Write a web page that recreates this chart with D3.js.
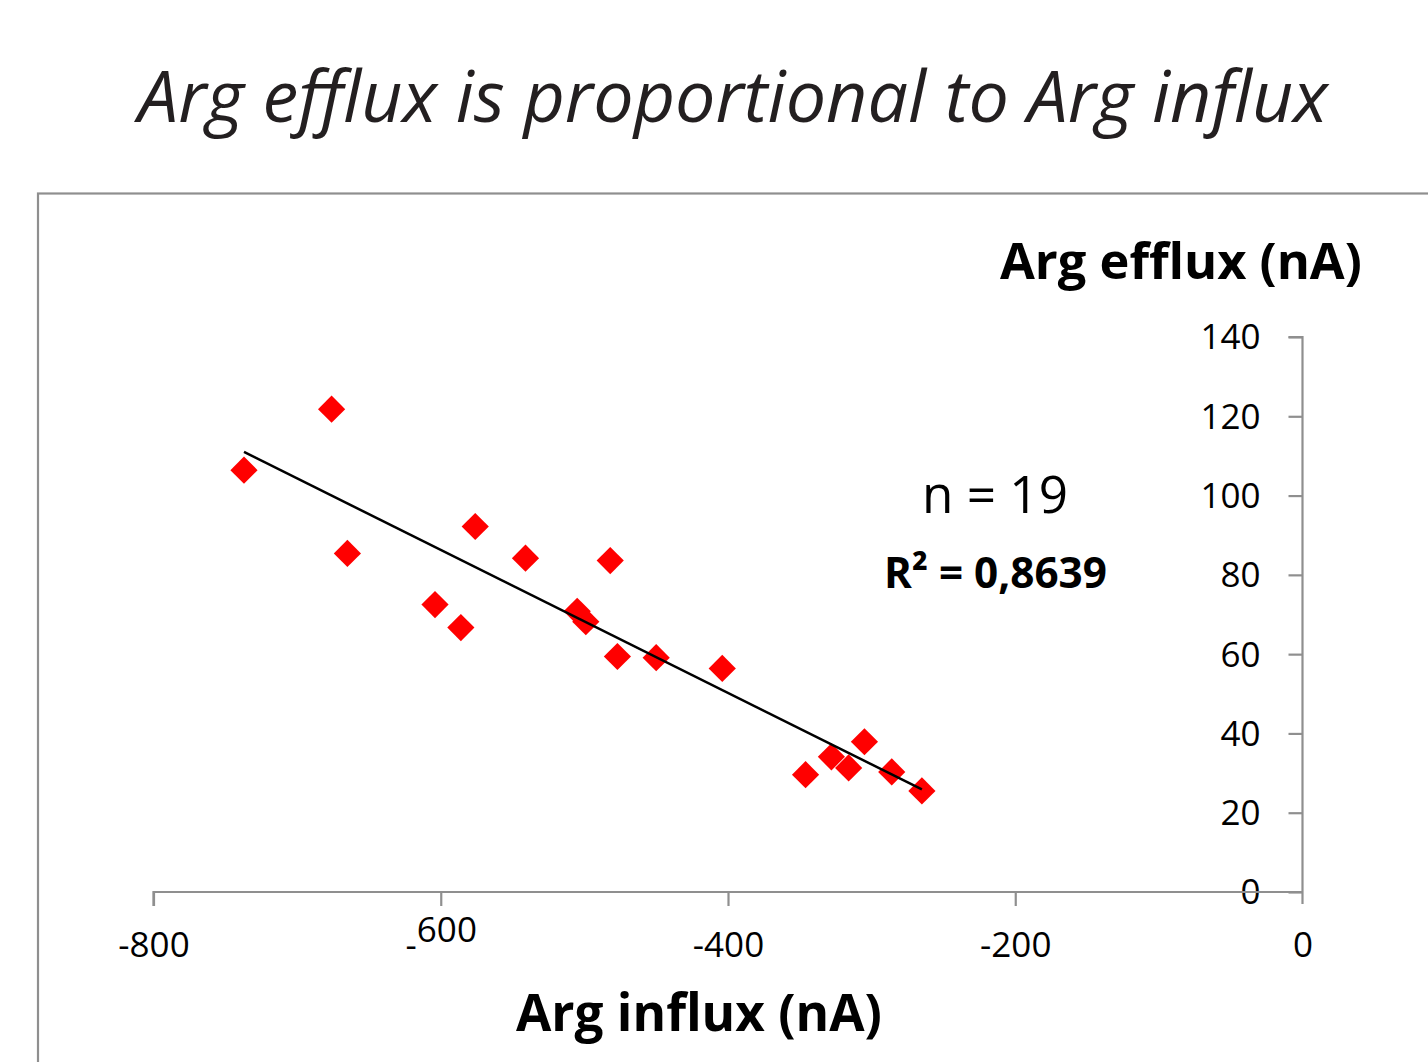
<!DOCTYPE html>
<html>
<head>
<meta charset="utf-8">
<script src="https://cdn.jsdelivr.net/npm/d3@7"></script>
<style>
  html, body { margin: 0; padding: 0; background: #fff; }
  svg { display: block; }
  text { font-family: "Open Sans", "Noto Sans", sans-serif; }
</style>
</head>
<body>
<svg id="chart" width="1428" height="1062"></svg>
<script>
// ---- data ----
const titleText = "Arg efflux is proportional to Arg influx";
const xLabel = "Arg influx (nA)";
const yLabel = "Arg efflux (nA)";
const nText = "n = 19";
const r2Text = "R² = 0,8639";

const influx = [-737, -676, -665, -604, -586, -576, -541, -505, -499, -482, -477, -450, -404, -346, -328, -316, -305, -286, -265];
const efflux = [106.4, 121.8, 85.4, 72.5, 66.7, 92.2, 84.2, 70.8, 68.2, 83.6, 59.4, 59.1, 56.4, 29.6, 34.1, 31.3, 37.9, 30.3, 25.5];

const xTicks = [-800, -600, -400, -200, 0];
const yTicks = [0, 20, 40, 60, 80, 100, 120, 140];

// ---- layout ----
const svg = d3.select("#chart");
const axisColor = "#8f8f8f";

const x = d3.scaleLinear().domain([-800, 0]).range([153.5, 1302.5]);
const y = d3.scaleLinear().domain([0, 140]).range([892, 337]);

// outer chart frame
svg.append("rect")
  .attr("x", 38).attr("y", 193.5)
  .attr("width", 1500).attr("height", 1000)
  .attr("fill", "none").attr("stroke", axisColor).attr("stroke-width", 2.2);

function fitText(sel, width) {
  const w = sel.node().getComputedTextLength();
  const fs = parseFloat(sel.attr("font-size"));
  sel.attr("font-size", fs * width / w);
}

// title
const title = svg.append("text")
  .attr("x", 138).attr("y", 122)
  .attr("font-size", 70).attr("font-style", "italic")
  .attr("fill", "#231f20")
  .text(titleText);
fitText(title, 1190);

// y axis
const yAxis = d3.axisLeft(y).tickValues(yTicks).tickSize(14).tickPadding(28).tickFormat(d3.format("d"));
const gy = svg.append("g").attr("transform", `translate(${x(0)},0)`).call(yAxis);
gy.select(".domain").attr("stroke", axisColor).attr("stroke-width", 2.2)
  .attr("d", `M-14,${y(140)}H0V${y(0) + 12}`);
gy.selectAll(".tick line").attr("stroke", axisColor).attr("stroke-width", 2.2);
gy.selectAll(".tick text").attr("font-size", 35).attr("fill", "#000")
  .attr("font-family", "'Open Sans', sans-serif").attr("dy", "0.34em");

// x axis
const xAxis = d3.axisBottom(x).tickValues(xTicks).tickSize(14).tickPadding(0).tickFormat(d => d3.format("d")(d).replace("−", "-"));
const gx = svg.append("g").attr("transform", `translate(0,${y(0)})`).call(xAxis);
gx.select(".domain").attr("stroke", axisColor).attr("stroke-width", 2.2)
  .attr("d", `M${x(-800)},14V0H${x(0)}`);
gx.selectAll(".tick line").attr("stroke", axisColor).attr("stroke-width", 2.2);
gx.selectAll(".tick text").attr("font-size", 35).attr("fill", "#000")
  .attr("font-family", "'Open Sans', sans-serif").attr("y", 65).attr("dy", 0);
// the -600 label shows its digits raised above the minus sign in the reference
gx.selectAll(".tick text").filter(d => d === -600).each(function(d) {
  const t = d3.select(this);
  t.text(null);
  t.append("tspan").text("-");
  t.append("tspan").attr("dy", -15).text(String(Math.abs(d)));
});
gx.selectAll(".tick").filter(d => d === 0).select("line").remove();

// regression line computed from data
const n = influx.length;
const mx = d3.mean(influx), my = d3.mean(efflux);
let sxy = 0, sxx = 0;
for (let i = 0; i < n; i++) { sxy += (influx[i] - mx) * (efflux[i] - my); sxx += (influx[i] - mx) ** 2; }
const slope = sxy / sxx, intercept = my - slope * mx;
const xmin = d3.min(influx), xmax = d3.max(influx);

// points
const diamond = d3.symbol().type(d3.symbolSquare).size(370);
svg.append("g").selectAll("path")
  .data(influx.map((v, i) => [v, efflux[i]]))
  .join("path")
  .attr("d", diamond)
  .attr("transform", d => `translate(${x(d[0])},${y(d[1])}) rotate(45)`)
  .attr("fill", "#ff0000");

svg.append("line")
  .attr("x1", x(xmin)).attr("y1", y(slope * xmin + intercept))
  .attr("x2", x(xmax)).attr("y2", y(slope * xmax + intercept))
  .attr("stroke", "#000").attr("stroke-width", 2.5);

// axis titles
const yl = svg.append("text")
  .attr("x", 1000).attr("y", 279)
  .attr("font-size", 50).attr("font-weight", "bold").attr("fill", "#000")
  .text(yLabel);
fitText(yl, 362);

const xl = svg.append("text")
  .attr("x", 516).attr("y", 1031)
  .attr("font-size", 50).attr("font-weight", "bold").attr("fill", "#000")
  .text(xLabel);
fitText(xl, 366);

// annotations
const nt = svg.append("text")
  .attr("x", 922).attr("y", 513)
  .attr("font-size", 48).attr("fill", "#000")
  .text(nText);
fitText(nt, 146);

const rt = svg.append("text")
  .attr("x", 884).attr("y", 588)
  .attr("font-size", 40).attr("font-weight", "bold").attr("fill", "#000")
  .text(r2Text);
fitText(rt, 223);
</script>
</body>
</html>
